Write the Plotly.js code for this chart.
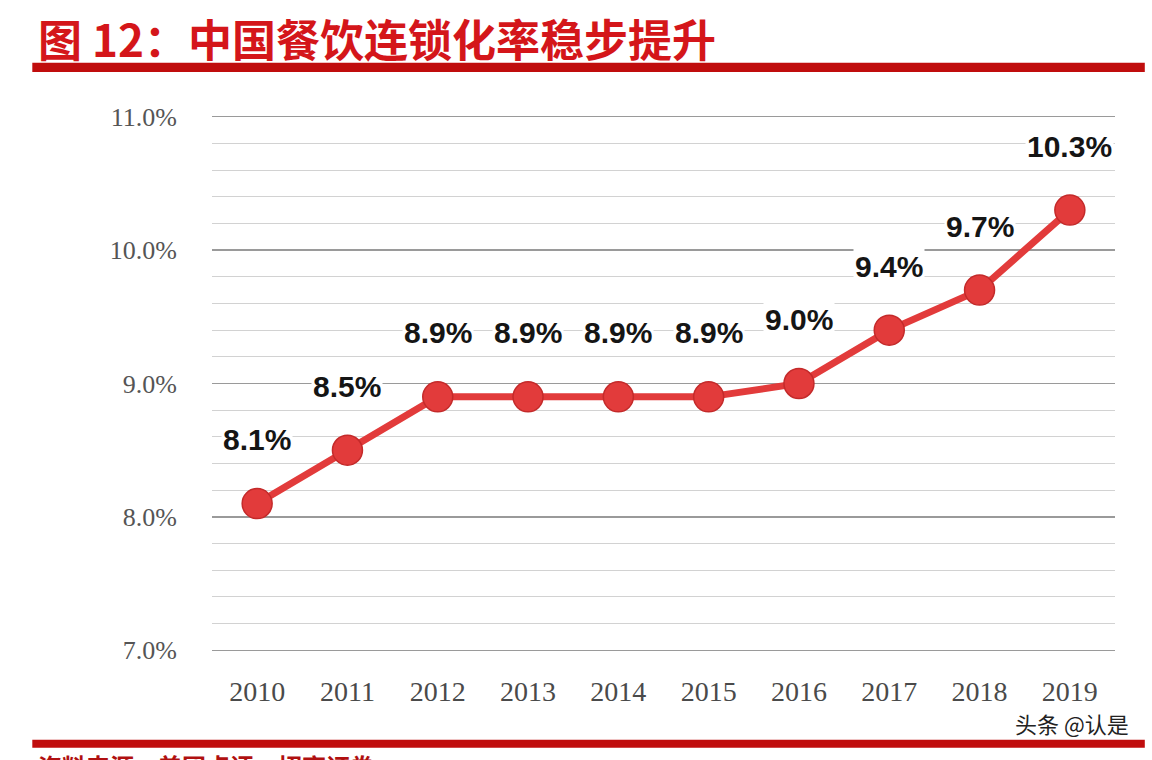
<!DOCTYPE html>
<html>
<head>
<meta charset="utf-8">
<script src="https://cdn.plot.ly/plotly-3.0.1.min.js"></script>
<style>
  html, body { margin: 0; padding: 0; background: #fff; }
  #chart { width: 1152px; height: 760px; }
</style>
</head>
<body>
<div id="chart"></div>
<script>
// 中国餐饮连锁化率 2010-2019
const years = ['2010', '2011', '2012', '2013', '2014', '2015', '2016', '2017', '2018', '2019'];
const rates = [8.1, 8.5, 8.9, 8.9, 8.9, 8.9, 9.0, 9.4, 9.7, 10.3];
const yTicks = [7, 8, 9, 10, 11];
const yTickText = ['7.0%', '8.0%', '9.0%', '10.0%', '11.0%'];

const red = '#e23b3b';

const trace = {
  x: years,
  y: rates,
  type: 'scatter',
  mode: 'lines+markers',
  line: { color: red, width: 7 },
  marker: { size: 30, color: red, line: { color: '#c42a2a', width: 1.5 } },
  hoverinfo: 'skip'
};

// data labels above each point (x given as category index)
const labels = years.map((yr, i) => ({
  x: i,
  y: rates[i],
  xref: 'x',
  yref: 'y',
  text: rates[i].toFixed(1) + '%',
  showarrow: false,
  yshift: 64,
  bgcolor: '#fff',
  font: { family: 'Liberation Sans, Arial', size: 30, color: '#151515', weight: 'bold' }
}));

const layout = {
  width: 1152,
  height: 760,
  margin: { l: 212, r: 37, t: 114, b: 107 },
  paper_bgcolor: '#fff',
  plot_bgcolor: '#fff',
  showlegend: false,
  font: { family: 'Liberation Serif, serif', color: '#555' },
  xaxis: {
    type: 'category',
    range: [-0.5, 9.5],
    showgrid: false,
    zeroline: false,
    showline: false,
    ticks: '',
    ticklabelstandoff: 19,
    tickfont: { family: 'Liberation Serif, serif', size: 28, color: '#4a4a4a' }
  },
  yaxis: {
    range: [6.98, 11.02],
    tickvals: yTicks,
    ticktext: yTickText,
    showgrid: true,
    gridcolor: '#9a9a9a',
    gridwidth: 1.5,
    zeroline: false,
    showline: false,
    ticks: '',
    ticklabelstandoff: 34,
    tickfont: { family: 'Liberation Serif, serif', size: 26, color: '#555' },
    minor: { dtick: 0.2, showgrid: true, gridcolor: '#d2d2d2', gridwidth: 1 }
  },
  shapes: [
    { type: 'rect', xref: 'paper', yref: 'paper',
      x0: -0.199, x1: 1.033, y0: 1.078, y1: 1.095,
      fillcolor: '#c00d0d', line: { width: 0 } },
    { type: 'rect', xref: 'paper', yref: 'paper',
      x0: -0.199, x1: 1.033, y0: -0.176, y1: -0.161,
      fillcolor: '#c00d0d', line: { width: 0 } }
  ],
  annotations: labels.concat([
    { xref: 'paper', yref: 'paper', x: -0.195, y: 1.141, xanchor: 'left', yanchor: 'middle',
      showarrow: false, text: '图 12：中国餐饮连锁化率稳步提升',
      font: { family: 'Noto Sans CJK SC', size: 44, color: '#d4161a', weight: 'bold' } },
    { xref: 'paper', yref: 'paper', x: 1.018, y: -0.130, xanchor: 'right', yanchor: 'middle',
      showarrow: false, text: '头条 @认是',
      font: { family: 'Noto Sans CJK SC', size: 22, color: '#222' } },
    { xref: 'paper', yref: 'paper', x: -0.195, y: -0.208, xanchor: 'left', yanchor: 'middle',
      showarrow: false, text: '资料来源：美团点评、招商证券',
      font: { family: 'Noto Sans CJK SC', size: 24, color: '#b01010', weight: 'bold' } }
  ])
};

Plotly.newPlot('chart', [trace], layout, { displayModeBar: false, staticPlot: true });
</script>
</body>
</html>
